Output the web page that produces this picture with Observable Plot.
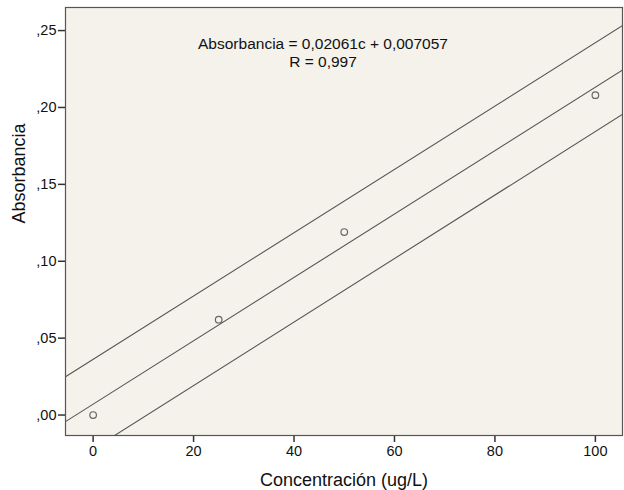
<!DOCTYPE html>
<html>
<head>
<meta charset="utf-8">
<script src="https://cdn.jsdelivr.net/npm/d3@7"></script>
<script src="https://cdn.jsdelivr.net/npm/@observablehq/plot@0.6"></script>
<style>
  html, body { margin: 0; padding: 0; background: #ffffff; }
  #chart svg { display: block; }
</style>
</head>
<body>
<div id="chart"></div>
<script>
// Data points
const concentration = [0, 25, 50, 100];
const absorbance = [0.000, 0.062, 0.119, 0.208];

// Line endpoints (at the left and right edges of the frame)
const lineX = [-5.5, 105.4];
const fitY = [-0.0043, 0.2243];
const upperY = [0.0249, 0.2532];
const lowerY = [-0.0335, 0.1955];

const xTicks = [0, 20, 40, 60, 80, 100];
const yTicks = [0, 0.05, 0.10, 0.15, 0.20, 0.25];

const equationText = "Absorbancia = 0,02061c + 0,007057";
const rText = "R = 0,997";
const xTitle = "Concentración (ug/L)";
const yTitle = "Absorbancia";

const points = concentration.map((c, i) => ({c, a: absorbance[i]}));
const mkLine = (ys, name) => lineX.map((x, i) => ({x, y: ys[i], name}));
const lines = [...mkLine(upperY, "upper"), ...mkLine(fitY, "fit"), ...mkLine(lowerY, "lower")];

const fmtY = d => "," + d3.format(".2f")(d).split(".")[1];

const W = 624, H = 490, ML = 65, MR = 2, MT = 7, MB = 55, TICK = 7;
const xDomain = [-5.5, 105.4];
const yDomain = [-0.0133, 0.265];

const chart = Plot.plot({
  width: W,
  height: H,
  marginLeft: ML,
  marginRight: MR,
  marginTop: MT,
  marginBottom: MB,
  style: {fontFamily: "'Liberation Sans', Arial, Helvetica, sans-serif", fontSize: "14px", color: "#000", background: "#ffffff"},
  x: {domain: xDomain},
  y: {domain: yDomain},
  marks: [
    Plot.frame({fill: "#F5F2EB", stroke: "none"}),
    // outward tick marks
    Plot.ruleX(xTicks, {x: d => d, y1: yDomain[0], y2: yDomain[0], insetBottom: -TICK, stroke: "#333", strokeWidth: 1.5}),
    Plot.ruleY(yTicks, {y: d => d, x1: xDomain[0], x2: xDomain[0], insetLeft: -TICK, stroke: "#333", strokeWidth: 1.5}),
    Plot.axisX(xTicks, {tickSize: 0, tickPadding: TICK + 3, label: null, fontSize: 14.5, fill: "#111"}),
    Plot.axisY(yTicks, {tickSize: 0, tickPadding: TICK + 2, tickFormat: fmtY, label: null, fontSize: 14.5, fill: "#111"}),
    Plot.line(lines, {x: "x", y: "y", z: "name", stroke: "#555", strokeWidth: 1.1, clip: true}),
    Plot.dot(points, {x: "c", y: "a", r: 3.3, stroke: "#666", strokeWidth: 1.2, fill: "none"}),
    Plot.text([equationText], {text: d => d, frameAnchor: "top", dx: -21, dy: 36.5, lineAnchor: "middle", fontSize: 15.5, fill: "#111"}),
    Plot.text([rText], {text: d => d, frameAnchor: "top", dx: -21, dy: 55, lineAnchor: "middle", fontSize: 15.5, fill: "#111"}),
    Plot.text([xTitle], {text: d => d, frameAnchor: "bottom", dy: 45, lineAnchor: "middle", fontSize: 18, fill: "#111"}),
    Plot.text([yTitle], {text: d => d, frameAnchor: "left", dx: -46, dy: 2, rotate: -90, lineAnchor: "middle", fontSize: 18, fill: "#111"}),
    Plot.frame({stroke: "#555", strokeWidth: 1.2})
  ]
});
document.getElementById("chart").appendChild(chart);
</script>
</body>
</html>
